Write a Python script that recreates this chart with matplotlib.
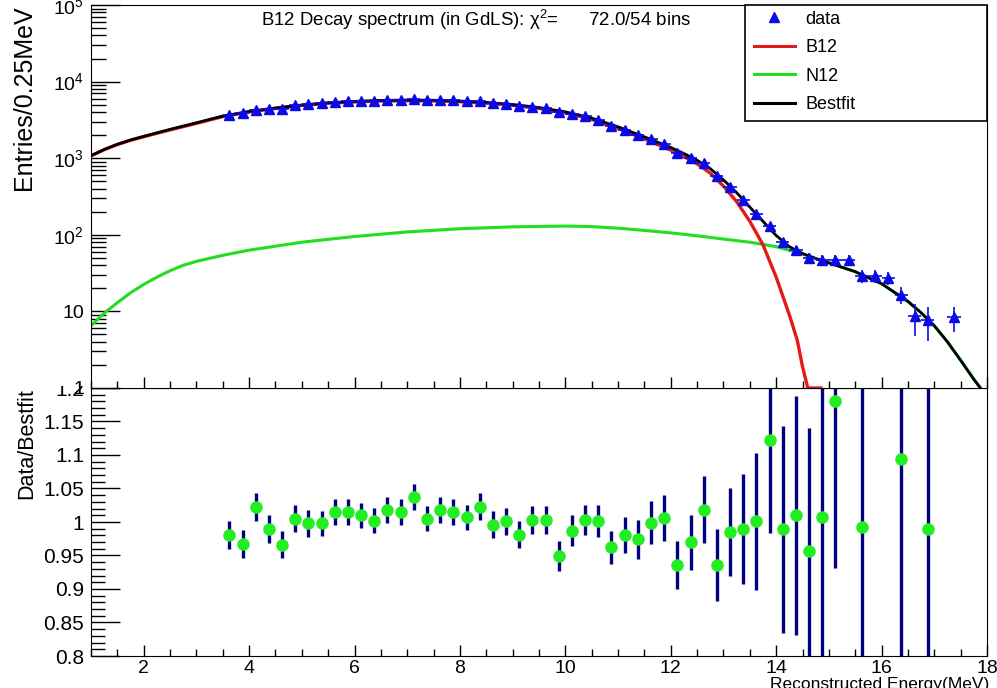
import numpy as np
import matplotlib
matplotlib.use('Agg')
import matplotlib.pyplot as plt
from matplotlib.lines import Line2D
from matplotlib.patches import Rectangle
from matplotlib.ticker import MultipleLocator, FixedLocator, FixedFormatter, LogLocator, NullFormatter, FuncFormatter

plt.rcParams['font.family'] = ['Liberation Sans', 'DejaVu Sans']
plt.rcParams['mathtext.fontset'] = 'custom'
plt.rcParams['mathtext.rm'] = 'Liberation Sans'
plt.rcParams['mathtext.default'] = 'regular'

# data points (upper panel), bin width 0.25 MeV
data_e = [3.625, 3.875, 4.125, 4.375, 4.625, 4.875, 5.125, 5.375, 5.625, 5.875,
          6.125, 6.375, 6.625, 6.875, 7.125, 7.375, 7.625, 7.875, 8.125, 8.375,
          8.625, 8.875, 9.125, 9.375, 9.625, 9.875, 10.125, 10.375, 10.625, 10.875,
          11.125, 11.375, 11.625, 11.875, 12.125, 12.375, 12.625, 12.875, 13.125, 13.375,
          13.625, 13.875, 14.125, 14.375, 14.625, 14.875, 15.125, 15.375, 15.625, 15.875,
          16.125, 16.375, 16.625, 16.875, 17.375]
data_n = [3640, 3860, 4310, 4370, 4450, 4880, 5030, 5180, 5430, 5550,
          5620, 5660, 5800, 5820, 5950, 5750, 5790, 5680, 5540, 5550,
          5260, 5120, 4840, 4730, 4480, 3970, 3810, 3530, 3150, 2650,
          2330, 1980, 1760, 1520, 1180, 1020, 855, 590, 420, 285,
          185, 132, 80, 64, 50, 47, 47, 47, 29, 29,
          27, 16.5, 8.6, 7.8, 8.4]
data_err = [60, 62, 66, 66, 67, 70, 71, 72, 74, 74,
            75, 75, 76, 76, 77, 76, 76, 75, 74, 74,
            72, 72, 70, 69, 67, 63, 62, 59, 56, 51,
            48, 44, 42, 39, 34, 32, 29, 24, 20, 17,
            14, 11.5, 9, 8, 7, 7, 7, 7, 5.4, 5.4,
            5.2, 4.1, 3.8, 3.7, 3.0]

# fit curves
fit_e = [1.0, 1.25, 1.5, 1.75, 2.0, 2.5, 3.0, 3.5, 4.0, 4.5, 5.0, 5.5, 6.0, 6.5, 7.0, 7.5, 8.0,
         8.5, 9.0, 9.5, 10.0, 10.5, 11.0, 11.5, 12.0, 12.25, 12.5, 12.75, 13.0, 13.25,
         13.5, 13.75, 14.0, 14.25, 14.5, 14.75, 15.0, 15.5, 16.0, 16.5, 16.75, 17.0, 17.25,
         17.5, 17.75, 17.9]
bestfit = [1080, 1300, 1520, 1730, 1930, 2380, 2900, 3550, 4080, 4530, 4950, 5300, 5520, 5680, 5740, 5710, 5580,
           5350, 5030, 4590, 4030, 3340, 2570, 1900, 1380, 1150, 940, 730, 520, 355,
           230, 150, 98, 70, 57, 49, 43, 33, 23, 13.5, 9.6, 6.5, 4.0,
           2.3, 1.3, 0.95]

b12_e = [1.0, 1.25, 1.5, 1.75, 2.0, 2.5, 3.0, 3.5, 4.0, 4.5, 5.0, 5.5, 6.0, 6.5, 7.0, 7.5, 8.0,
         8.5, 9.0, 9.5, 10.0, 10.5, 11.0, 11.5, 12.0, 12.25, 12.5, 12.75, 13.0, 13.25,
         13.5, 13.75, 14.0, 14.25, 14.4, 14.5, 14.6, 14.85]
b12 = [1073, 1291, 1507, 1712, 1906, 2342, 2850, 3491, 4013, 4455, 4867, 5210, 5423, 5576, 5630, 5594, 5459,
       5225, 4902, 4461, 3900, 3212, 2448, 1786, 1274, 1049, 843, 638, 432, 271,
       150, 74, 28, 9, 4.2, 1.9, 1.0, 1.0]

n12_e = [1.0, 1.25, 1.5, 1.75, 2.0, 2.25, 2.5, 2.75, 3.0, 3.5, 4.0, 5.0, 6.0, 7.0, 8.0, 9.0, 10.0, 10.5,
         11.0, 11.5, 12.0, 12.5, 13.0, 13.5, 14.0, 14.5, 14.75, 15.0, 15.5, 16.0, 16.5,
         16.75, 17.0, 17.25, 17.5, 17.75, 17.9]
n12 = [6.5, 9.5, 13, 17.5, 22.5, 28, 34, 40, 45, 54, 63, 80, 95, 109, 120, 127, 130, 128,
       122, 114, 106, 97, 88, 80, 70, 56, 49, 43, 33, 23, 13.5,
       9.6, 6.5, 4.0, 2.3, 1.3, 0.95]

# ratio panel
ratio_e = [3.625, 3.875, 4.125, 4.375, 4.625, 4.875, 5.125, 5.375, 5.625, 5.875,
           6.125, 6.375, 6.625, 6.875, 7.125, 7.375, 7.625, 7.875, 8.125, 8.375,
           8.625, 8.875, 9.125, 9.375, 9.625, 9.875, 10.125, 10.375, 10.625, 10.875,
           11.125, 11.375, 11.625, 11.875, 12.125, 12.375, 12.625, 12.875, 13.125, 13.375,
           13.625, 13.875, 14.125, 14.375, 14.625, 14.875, 15.125, 15.625, 16.375, 16.875]
ratio = [0.981, 0.967, 1.023, 0.990, 0.966, 1.005, 0.998, 0.998, 1.015, 1.015,
         1.010, 1.002, 1.018, 1.015, 1.037, 1.005, 1.018, 1.015, 1.007, 1.023,
         0.996, 1.001, 0.981, 1.003, 1.003, 0.949, 0.987, 1.003, 1.001, 0.962,
         0.981, 0.974, 0.999, 1.006, 0.936, 0.970, 1.018, 0.936, 0.985, 0.990,
         1.001, 1.122, 0.989, 1.010, 0.956, 1.008, 1.180, 0.992, 1.094, 0.989]
ratio_err = [0.021, 0.021, 0.021, 0.021, 0.020, 0.020, 0.020, 0.019, 0.019, 0.019,
             0.019, 0.019, 0.019, 0.019, 0.019, 0.019, 0.019, 0.019, 0.019, 0.020,
             0.020, 0.020, 0.020, 0.021, 0.021, 0.022, 0.023, 0.023, 0.024, 0.025,
             0.027, 0.029, 0.032, 0.034, 0.036, 0.041, 0.050, 0.054, 0.066, 0.082,
             0.102, 0.139, 0.154, 0.178, 0.185, 0.26, 0.248, 0.40, 0.55, 0.65]

fig = plt.figure(figsize=(9.97, 6.88), dpi=100)
W, H = 997.0, 688.0
left, right = 91 / W, 987 / W

ax2 = fig.add_axes([left, 1 - 656 / H, right - left, (656 - 388) / H], zorder=0)
ax = fig.add_axes([left, 1 - 388 / H, right - left, (388 - 5) / H], zorder=1)

# cover the part of the lower pad that sits under the upper pad (ROOT style)
fig.add_artist(Rectangle((0, 1 - 386 / H), left, 386 / H, transform=fig.transFigure,
                         facecolor='white', edgecolor='none', zorder=0.5))

# upper panel
ax.plot(n12_e, n12, color='#22dd22', lw=2.2, zorder=2)
ax.plot(b12_e, b12, color='#e41a1a', lw=2.4, zorder=3)
ax.plot(fit_e, bestfit, color='black', lw=2.0, zorder=4)
ax.errorbar(data_e, data_n, yerr=data_err, xerr=0.125, fmt='^', color='#0a0ae6',
            ms=7.5, elinewidth=1.2, capsize=0, zorder=5)
ax.set_yscale('log')
ax.set_xlim(1, 18)
ax.set_ylim(1, 1e5)
ax.yaxis.set_major_locator(FixedLocator([1, 10, 100, 1e3, 1e4, 1e5]))
ax.yaxis.set_major_formatter(FixedFormatter(['1', '10', '10$^{2}$', '10$^{3}$', '10$^{4}$', '10$^{5}$']))
ax.yaxis.set_minor_locator(LogLocator(base=10, subs=np.arange(2, 10)))
ax.yaxis.set_minor_formatter(NullFormatter())
ax.xaxis.set_major_locator(MultipleLocator(2))
ax.xaxis.set_minor_locator(MultipleLocator(0.5))
ax.tick_params(axis='both', which='both', direction='in', top=False, right=False,
               labelbottom=False, labelsize=14, width=1)
ax.tick_params(axis='y', which='major', length=21, pad=5)
ax.tick_params(axis='y', which='minor', length=11)
ax.tick_params(axis='x', which='major', length=8)
ax.tick_params(axis='x', which='minor', length=5)

# lower panel
ax2.errorbar(ratio_e, ratio, yerr=ratio_err, fmt='o', color='#22ee22', mec='#22ee22',
             ecolor='#000080', ms=8, elinewidth=2.4, capsize=0)
ax2.set_xlim(1, 18)
ax2.set_ylim(0.8, 1.2)
ax2.yaxis.set_major_locator(MultipleLocator(0.05))
ax2.yaxis.set_minor_locator(MultipleLocator(0.01))
ax2.yaxis.set_major_formatter(FuncFormatter(lambda v, p: '%g' % round(v, 2)))
ax2.xaxis.set_major_locator(MultipleLocator(2))
ax2.xaxis.set_minor_locator(MultipleLocator(0.5))
ax2.tick_params(axis='both', which='both', direction='in', top=False, right=False, width=1)
ax2.tick_params(axis='y', which='major', length=21, pad=5, labelsize=15)
ax2.tick_params(axis='y', which='minor', length=10)
ax2.tick_params(axis='x', which='major', length=8, pad=3, labelsize=14)
ax2.tick_params(axis='x', which='minor', length=5)

# texts
fig.text(24 / W, 1 - 5 / H, 'Entries/0.25MeV', rotation=90, ha='center', va='top', fontsize=18)
fig.text(27 / W, 1 - 388 / H, 'Data/Bestfit', rotation=90, ha='center', va='top', fontsize=15.5)
fig.text(989 / W, 1 - 677 / H, 'Reconstructed Energy(MeV)', ha='right', va='top', fontsize=12.5)
fig.text(261 / W, 1 - 20 / H, 'B12 Decay spectrum (in GdLS): χ$^{2}$=      72.0/54 bins',
         ha='left', va='center', fontsize=13.4)

# legend box
fig.add_artist(Rectangle((745 / W, 1 - 121 / H), (987 - 745) / W, (121 - 5) / H,
                         transform=fig.transFigure, facecolor='white', edgecolor='black',
                         lw=1.2, zorder=6))
handles = [Line2D([], [], color='#0a0ae6', marker='^', ls='none', ms=7.5),
           Line2D([], [], color='#e41a1a', lw=2.2),
           Line2D([], [], color='#22dd22', lw=2.2),
           Line2D([], [], color='black', lw=2.2)]
leg = fig.legend(handles, ['data', 'B12', 'N12', 'Bestfit'], loc='upper left',
                 bbox_to_anchor=(741 / W, 1 + 2 / H), frameon=False, fontsize=13,
                 handlelength=2.3, handletextpad=0.55, labelspacing=0.64, borderpad=0.2)
leg.set_zorder(7)

plt.savefig('out.png', dpi=100)
